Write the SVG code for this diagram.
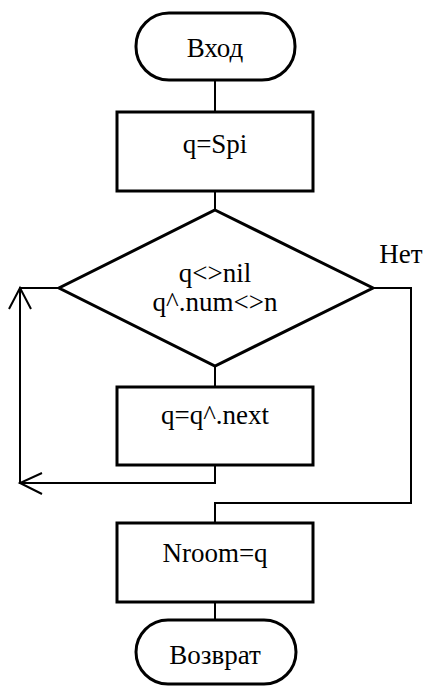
<svg xmlns="http://www.w3.org/2000/svg" width="423" height="686" viewBox="0 0 423 686">
<style>
.shape{fill:#fff;stroke:#000;stroke-width:3}
.conn{fill:none;stroke:#000;stroke-width:2}
text{font-family:"Liberation Serif",Tinos,"Times New Roman",Times,"Nimbus Roman","DejaVu Serif",serif;font-size:27px;text-anchor:middle;fill:#000}
</style>
<rect width="423" height="686" fill="#fff"/>
<g id="connectors">
<path class="conn" d="M215 72V112"/>
<path class="conn" d="M215 191V210"/>
<path class="conn" d="M215 366V387"/>
<path class="conn" d="M215 464V483H20V288H59"/>
<path class="conn" d="M9 309L20 288L31 309"/>
<path class="conn" d="M42 473L20 483L42 494"/>
<path class="conn" d="M373 288H411V503H215V523"/>
<path class="conn" d="M215 602V621"/>
<text x="401" y="263">Нет</text>
</g>
<g id="start">
<rect class="shape" x="136" y="13" width="159" height="67" rx="33" ry="33"/>
<text x="215" y="57">Вход</text>
</g>
<g id="init">
<rect class="shape" x="117" y="112" width="196" height="79"/>
<text x="215" y="153">q=Spi</text>
</g>
<g id="cond">
<polygon class="shape" points="215,210 373,288 215,366 59,288"/>
<text x="215" y="282">q&lt;&gt;nil</text>
<text x="215" y="311">q^.num&lt;&gt;n</text>
</g>
<g id="next">
<rect class="shape" x="117" y="387" width="196" height="78"/>
<text x="215" y="424">q=q^.next</text>
</g>
<g id="assign">
<rect class="shape" x="117" y="523" width="196" height="79"/>
<text x="215" y="562">Nroom=q</text>
</g>
<g id="end">
<rect class="shape" x="136" y="620" width="160" height="64" rx="32" ry="32"/>
<text x="215" y="664">Возврат</text>
</g>
</svg>
